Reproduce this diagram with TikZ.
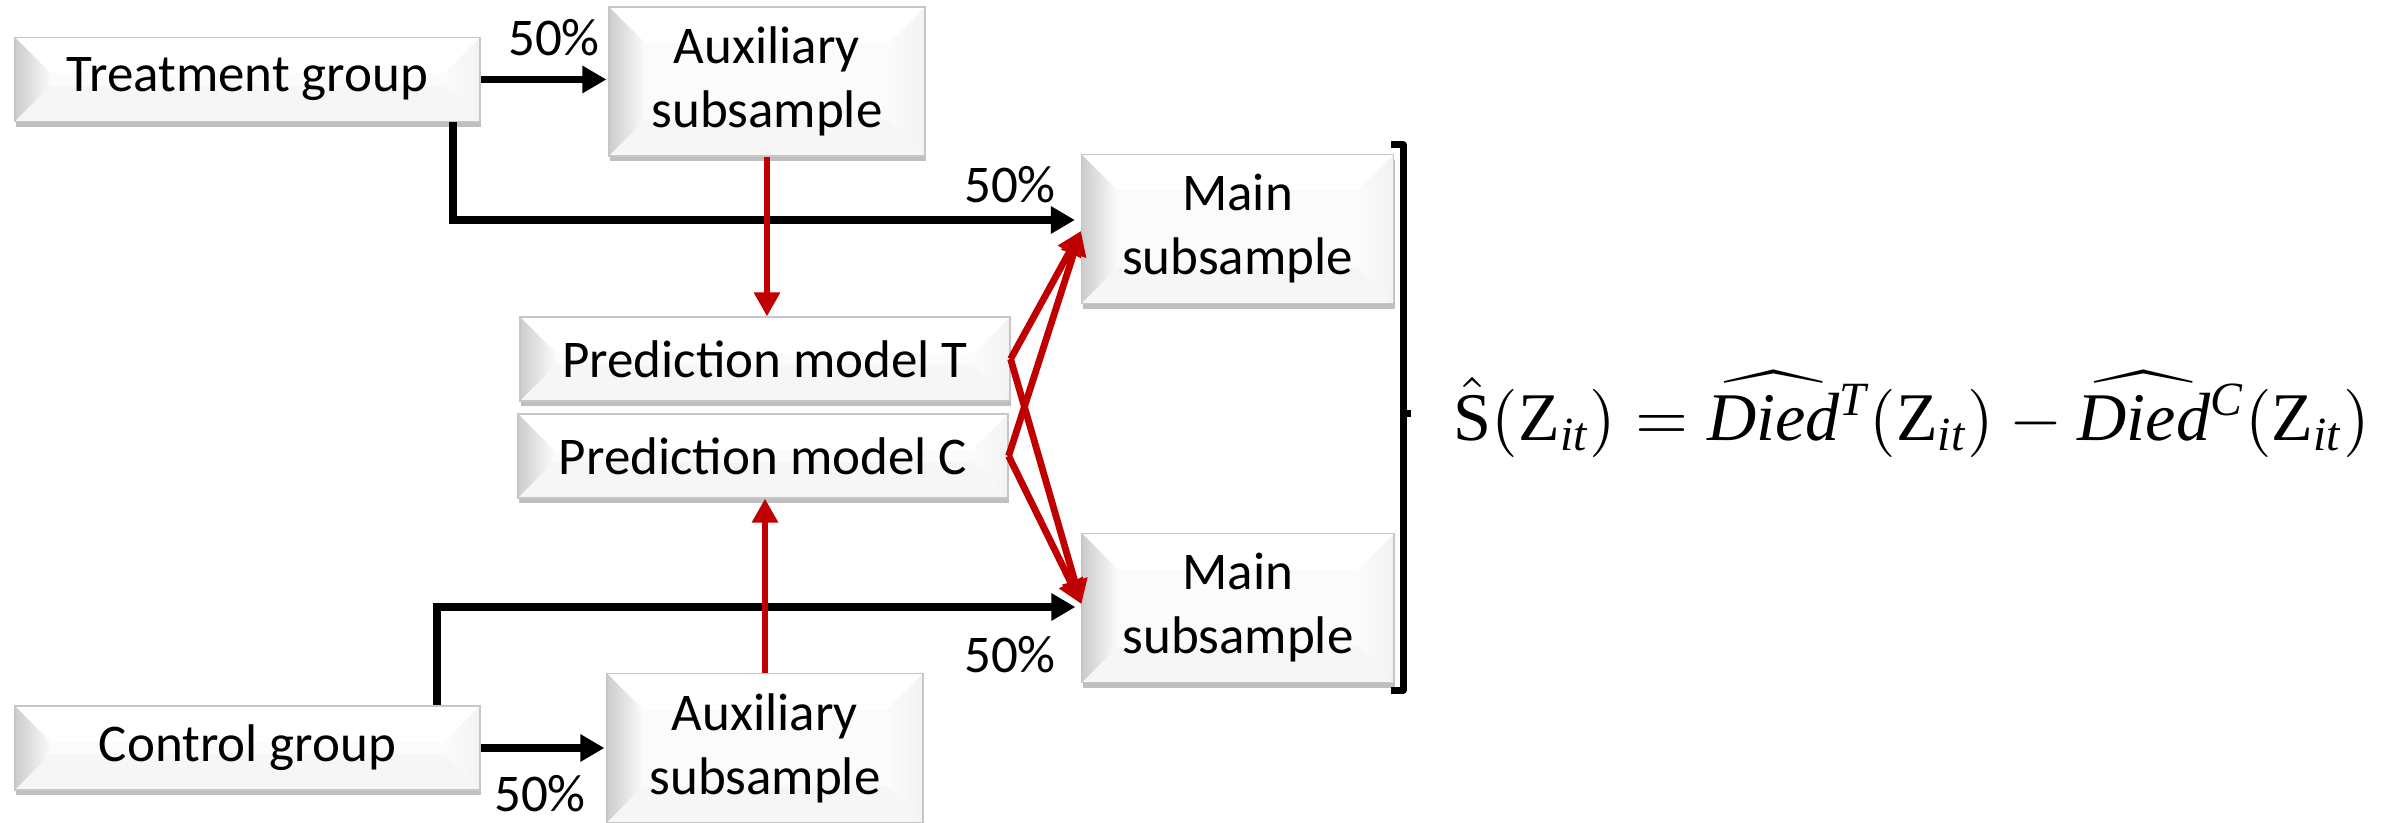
\documentclass[tikz,border=0pt]{standalone}
\usepackage[no-math]{fontspec}
\setmainfont{Carlito}
\newfontfamily\fserif{Liberation Serif}[NFSSFamily=libserif]
\DeclareMathAlphabet{\mlib}{TU}{libserif}{m}{it}
\DeclareMathAlphabet{\mlibr}{TU}{libserif}{m}{n}
\usepackage{graphicx}
\usetikzlibrary{arrows.meta,shadows}
\definecolor{arrowred}{RGB}{192,0,0}
\tikzset{
  bevel/.style={draw=gray!45, line width=0.6pt, fill=white, align=center, inner sep=0pt,
    font=\fontsize{26.5}{32}\selectfont,
    drop shadow={shadow xshift=0.6pt, shadow yshift=-2.6pt, opacity=0.25, fill=black},
    path picture={
      \fill[gray!3] ([shift={(18pt,-18pt)}]path picture bounding box.north west) rectangle ([shift={(-18pt,18pt)}]path picture bounding box.south east);
      \shade[left color=gray!40, right color=gray!3] (path picture bounding box.north west) -- (path picture bounding box.south west) -- ([shift={(18pt,18pt)}]path picture bounding box.south west) -- ([shift={(18pt,-18pt)}]path picture bounding box.north west) -- cycle;
      \fill[gray!7] (path picture bounding box.south west) -- (path picture bounding box.south east) -- ([shift={(-18pt,18pt)}]path picture bounding box.south east) -- ([shift={(18pt,18pt)}]path picture bounding box.south west) -- cycle;
      \shade[left color=gray!3, right color=gray!10] (path picture bounding box.north east) -- (path picture bounding box.south east) -- ([shift={(-18pt,18pt)}]path picture bounding box.south east) -- ([shift={(-18pt,-18pt)}]path picture bounding box.north east) -- cycle;
    }},
  widebox/.style={bevel, minimum width=232.5pt, minimum height=42pt},
  auxbox/.style={bevel, minimum width=158pt, minimum height=74.5pt},
  mainbox/.style={bevel, minimum width=156pt, minimum height=74.5pt},
  predbox/.style={bevel, minimum width=245pt, minimum height=42pt},
  pct/.style={font=\fontsize{26.5}{32}\selectfont, inner sep=0pt},
  blkarrow/.style={line width=3.8pt, black, -{Triangle[length=12pt,width=13pt]}},
  redarrow/.style={line width=3.4pt, arrowred, -{Triangle[length=12pt,width=12.5pt]}},
  bracketline/.style={line width=3.5pt, black},
}
\begin{document}
\begin{tikzpicture}[x=0.5pt, y=-0.5pt]
\useasboundingbox (0,0) rectangle (2387,823);

% nodes
\node[widebox] (treat) at (247.5,79.5) {Treatment group};
\node[auxbox]  (auxT)  at (767,81.5) {Auxiliary\\subsample};
\node[mainbox] (mainT) at (1237.5,229) {Main\\subsample};
\node[predbox] (predT) at (765,359) {Prediction model T};
\node[predbox] (predC) at (763,456) {Prediction model C};
\node[mainbox] (mainB) at (1238,608) {Main\\subsample};
\node[widebox] (ctrl)  at (247.5,748) {Control group};
\node[auxbox]  (auxC)  at (765,748) {Auxiliary\\subsample};

% percentage labels
\node[pct] (p1) at (554,38) {50\%};
\node[pct] (p2) at (1010,185) {50\%};
\node[pct] (p3) at (1010,655) {50\%};
\node[pct] (p4) at (540,794) {50\%};

% turning points
\coordinate (tturn) at (453,220);
\coordinate (cturn) at (437,607);

% black arrows
\draw[blkarrow, shorten >=1pt] (treat.east) -- (treat.east -| auxT.west);
\draw[blkarrow, shorten >=1pt] (ctrl.east) -- (ctrl.east -| auxC.west);
\draw[blkarrow, shorten >=3pt] (treat.south -| tturn) -- (tturn) -- (tturn -| mainT.west);
\draw[blkarrow, shorten >=3pt] (ctrl.north -| cturn) -- (cturn) -- (cturn -| mainB.west);

% red arrows
\draw[redarrow] (auxT.south) -- (auxT.south |- predT.north);
\draw[redarrow] (auxC.north) -- (auxC.north |- predC.south);
\draw[redarrow] (predT.east) -- ([yshift=-1pt]mainT.west);
\draw[redarrow] (predC.east) -- ([yshift=-1pt]mainT.west);
\draw[redarrow] (predT.east) -- ([yshift=2pt]mainB.west);
\draw[redarrow] (predC.east) -- ([yshift=2pt]mainB.west);

% formula
\node[inner sep=0pt] (formula) at (1912,414) {\resizebox{458pt}{!}{$\hat{\mlibr{S}}(\mlibr{Z}_{\mlib{it}}) = {\widehat{\mlib{Died}}}{}^{\mlib{T}}(\mlibr{Z}_{\mlib{it}}) - {\widehat{\mlib{Died}}}{}^{\mlib{C}}(\mlibr{Z}_{\mlib{it}})$}};

% bracket
\coordinate (brtop) at (1403,145);
\coordinate (brbot) at (1403,690);
\coordinate (brmid) at (1403,414);
\draw[bracketline, line join=round] ([xshift=-6pt]brtop) -- (brtop) -- (brbot) -- ([xshift=-6pt]brbot);
\draw[bracketline] (brmid) -- ([xshift=4pt]brmid);
\end{tikzpicture}
\end{document}
